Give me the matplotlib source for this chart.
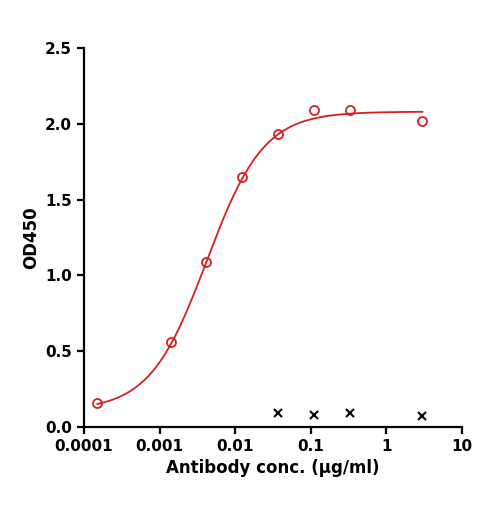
import numpy as np
import matplotlib
matplotlib.use("Agg")
import matplotlib.pyplot as plt

conc = [0.00015, 0.0014, 0.0041, 0.0123, 0.037, 0.111, 0.333, 3.0]
od = [0.16, 0.56, 1.09, 1.65, 1.93, 2.09, 2.09, 2.02]
ctrl_conc = [0.037, 0.111, 0.333, 3.0]
ctrl_od = [0.09, 0.08, 0.09, 0.07]
# 4PL fit parameters (bottom, top, EC50, hill)
fit = (0.11, 2.08, 0.0042, 1.15)
xticks = [0.0001, 0.001, 0.01, 0.1, 1, 10]
xticklabels = ["0.0001", "0.001", "0.01", "0.1", "1", "10"]
yticks = [0.0, 0.5, 1.0, 1.5, 2.0, 2.5]

fig = plt.figure(figsize=(4.85, 5.08), dpi=100)
ax = fig.add_axes([84/485, 81/508, 378/485, 379/508])
xs = np.logspace(np.log10(conc[0]), np.log10(conc[-1]), 300)
b, t, ec, h = fit
ax.plot(xs, b + (t - b) / (1 + (ec / xs) ** h), color="#d62020", lw=1.3)
ax.plot(conc, od, "o", mfc="none", mec="#d62020", mew=1.3, ms=6.5)
ax.plot(ctrl_conc, ctrl_od, "x", color="black", mew=1.5, ms=6)
ax.set_xscale("log")
ax.set_xlim(0.0001, 10)
ax.set_ylim(0, 2.5)
ax.set_xticks(xticks)
ax.set_xticklabels(xticklabels)
ax.xaxis.set_minor_locator(matplotlib.ticker.NullLocator())
ax.set_yticks(yticks)
ax.set_yticklabels([f"{v:.1f}" for v in yticks])
for s in ["top", "right"]:
    ax.spines[s].set_visible(False)
for s in ["left", "bottom"]:
    ax.spines[s].set_linewidth(1.6)
ax.tick_params(width=1.6, length=5, labelsize=11)
for lab in ax.get_xticklabels() + ax.get_yticklabels():
    lab.set_fontweight("bold")
ax.set_xlabel("Antibody conc. (μg/ml)", fontsize=12, fontweight="bold")
ax.set_ylabel("OD450", fontsize=12, fontweight="bold")
fig.savefig("out.png")
